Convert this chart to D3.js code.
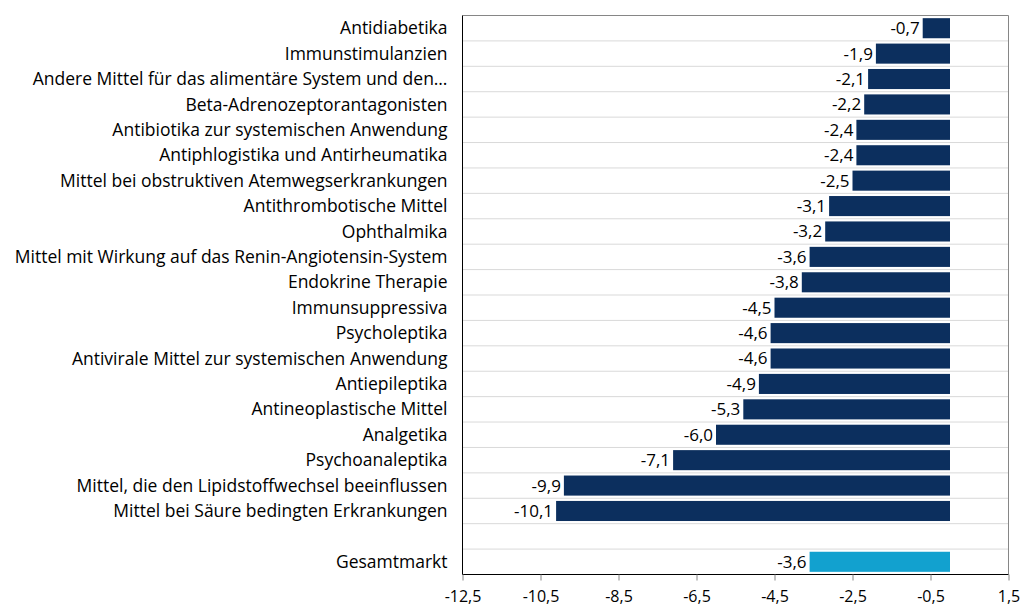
<!DOCTYPE html>
<html><head><meta charset="utf-8">
<script src="https://cdn.jsdelivr.net/npm/d3@7"></script>
<style>body{margin:0;background:#fff}svg{display:block}text{font-family:"Open Sans",sans-serif}</style>
</head><body><svg id="c" width="1021" height="609"></svg>
<script>
const categories = ["Antidiabetika","Immunstimulanzien","Andere Mittel für das alimentäre System und den…","Beta-Adrenozeptorantagonisten","Antibiotika zur systemischen Anwendung","Antiphlogistika und Antirheumatika","Mittel bei obstruktiven Atemwegserkrankungen","Antithrombotische Mittel","Ophthalmika","Mittel mit Wirkung auf das Renin-Angiotensin-System","Endokrine Therapie","Immunsuppressiva","Psycholeptika","Antivirale Mittel zur systemischen Anwendung","Antiepileptika","Antineoplastische Mittel","Analgetika","Psychoanaleptika","Mittel, die den Lipidstoffwechsel beeinflussen","Mittel bei Säure bedingten Erkrankungen","","Gesamtmarkt"];
const values = [-0.7,-1.9,-2.1,-2.2,-2.4,-2.4,-2.5,-3.1,-3.2,-3.6,-3.8,-4.5,-4.6,-4.6,-4.9,-5.3,-6.0,-7.1,-9.9,-10.1,null,-3.6];
const tickValues = [-12.5,-10.5,-8.5,-6.5,-4.5,-2.5,-0.5,1.5];

const svg = d3.select("#c");
const L=462.5, R=1008.5, T=15.5, B=574.5;
const x = d3.scaleLinear().domain([-12.5,1.5]).range([L,R]);
const y = d3.scaleBand().domain(d3.range(categories.length)).range([T,B]).paddingInner(0.21).paddingOuter(0.105);
const step = y.step();
const fmt = v => d3.format(".1f")(v).replace(".",",").replace("−","-");

svg.append("g").selectAll("line").data(d3.range(1,categories.length)).join("line")
  .attr("x1",L).attr("x2",R).attr("y1",i=>T+i*step).attr("y2",i=>T+i*step)
  .attr("stroke","#d9d9d9").attr("stroke-width",1);

svg.append("path").attr("d",`M${L},${T}H${R}V${B}`).attr("fill","none").attr("stroke","#868686").attr("stroke-width",1);

const data = categories.map((c,i)=>({c,i,v:values[i]}));
svg.append("g").selectAll("rect").data(data.filter(d=>d.v!=null)).join("rect")
  .attr("x",d=>x(d.v)).attr("width",d=>x(0)-x(d.v))
  .attr("y",d=>y(d.i)).attr("height",y.bandwidth())
  .attr("fill",d=>d.c==="Gesamtmarkt"?"#12a1cf":"#0c2f5e");

svg.append("g").selectAll("text").data(data.filter(d=>d.v!=null)).join("text")
  .attr("x",d=>x(d.v)-3).attr("y",d=>y(d.i)+y.bandwidth()/2).attr("dy","0.35em")
  .attr("text-anchor","end").attr("font-size",17).attr("fill","#000").text(d=>fmt(d.v));

svg.append("g").selectAll("text").data(data).join("text")
  .attr("x",L-15).attr("y",d=>y(d.i)+y.bandwidth()/2).attr("dy","0.35em")
  .attr("text-anchor","end").attr("font-size",17.5).attr("fill","#000").text(d=>d.c);

const xa = svg.append("g").attr("transform",`translate(0,${B})`)
  .call(d3.axisBottom(x).tickValues(tickValues).tickSize(6).tickPadding(10).tickFormat(fmt));
xa.select(".domain").attr("stroke","#000").attr("d",`M${L},0H${R}`);
xa.selectAll(".tick line").attr("stroke","#868686");
xa.selectAll("text").attr("font-size",16).attr("fill","#000").attr("font-family","'Open Sans',sans-serif");
svg.append("line").attr("x1",L).attr("x2",L).attr("y1",T).attr("y2",B).attr("stroke","#000");
</script></body></html>
